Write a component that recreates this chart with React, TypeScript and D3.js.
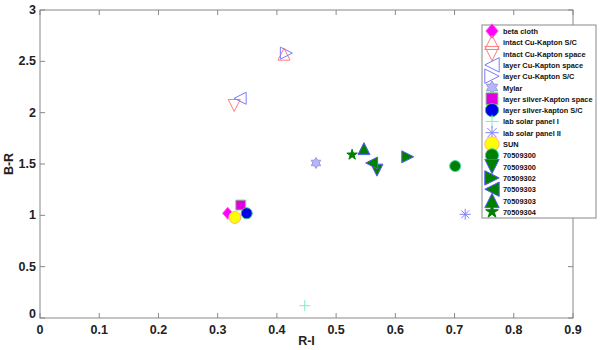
import React from "react";
import * as d3 from "d3";

// ---- data ----
const seriesNames = [
  "beta cloth",
  "intact Cu-Kapton S/C",
  "intact Cu-Kapton space",
  "layer Cu-Kapton space",
  "layer Cu-Kapton S/C",
  "Mylar",
  "layer silver-Kapton space",
  "layer silver-kapton S/C",
  "lab solar panel I",
  "lab solar panel II",
  "SUN",
  "70509300",
  "70509300",
  "70509302",
  "70509303",
  "70509303",
  "70509304",
];
const rIValues = [0.317, 0.412, 0.328, 0.338, 0.416, 0.466, 0.339, 0.349, 0.447, 0.718, 0.329, 0.701, 0.569, 0.621, 0.56, 0.547, 0.527];
const bRValues = [1.02, 2.57, 2.07, 2.14, 2.58, 1.51, 1.1, 1.02, 0.12, 1.01, 0.98, 1.48, 1.44, 1.57, 1.51, 1.65, 1.59];
const xTicks = [0, 0.1, 0.2, 0.3, 0.4, 0.5, 0.6, 0.7, 0.8, 0.9];
const yTicks = [0, 0.5, 1, 1.5, 2, 2.5, 3];
const xLabel = "R-I";
const yLabel = "B-R";

// ---- styles ----
type Sty = { shape: string; fill: string; stroke: string; size: number };
const styles: Sty[] = [
  { shape: "diamond", fill: "#ff00ff", stroke: "#ff55dd", size: 12 },
  { shape: "up", fill: "none", stroke: "#ff7a7a", size: 12 },
  { shape: "down", fill: "none", stroke: "#ff7a7a", size: 12 },
  { shape: "left", fill: "none", stroke: "#7a7aff", size: 12 },
  { shape: "right", fill: "none", stroke: "#7a7aff", size: 12 },
  { shape: "hexagram", fill: "#b4b4ff", stroke: "#9a9ad8", size: 11 },
  { shape: "square", fill: "#e000e0", stroke: "#7fdf7f", size: 10 },
  { shape: "circle", fill: "#0000ee", stroke: "#3fbf5f", size: 11 },
  { shape: "plus", fill: "none", stroke: "#80ecc8", size: 11 },
  { shape: "asterisk", fill: "none", stroke: "#8080ff", size: 11 },
  { shape: "circle", fill: "#ffff00", stroke: "#ffb08a", size: 12 },
  { shape: "circle", fill: "#008000", stroke: "#40d8b0", size: 11 },
  { shape: "down", fill: "#008000", stroke: "#5a5aff", size: 12 },
  { shape: "right", fill: "#008000", stroke: "#5a5aff", size: 12 },
  { shape: "left", fill: "#008000", stroke: "#5a5aff", size: 12 },
  { shape: "up", fill: "#008000", stroke: "#5a5aff", size: 12 },
  { shape: "pentagram", fill: "#008000", stroke: "#008000", size: 11 },
];

function markerPath(shape: string, s: number): string {
  const h = s / 2;
  switch (shape) {
    case "diamond":
      return `M0,${-h}L${h * 0.85},0L0,${h}L${-h * 0.85},0Z`;
    case "up":
      return `M0,${-h}L${h},${h}L${-h},${h}Z`;
    case "down":
      return `M0,${h}L${h},${-h}L${-h},${-h}Z`;
    case "left":
      return `M${-h},0L${h},${-h}L${h},${h}Z`;
    case "right":
      return `M${h},0L${-h},${-h}L${-h},${h}Z`;
    case "square":
      return `M${-h},${-h}H${h}V${h}H${-h}Z`;
    case "circle":
      return d3.arc()({ innerRadius: 0, outerRadius: h, startAngle: 0, endAngle: 2 * Math.PI }) as string;
    case "plus":
      return `M${-h},0H${h}M0,${-h}V${h}`;
    case "asterisk": {
      const d = h * 0.707;
      return `M${-h},0H${h}M0,${-h}V${h}M${-d},${-d}L${d},${d}M${-d},${d}L${d},${-d}`;
    }
    case "hexagram": {
      const pts: string[] = [];
      for (let i = 0; i < 12; i++) {
        const r = i % 2 === 0 ? h : h * 0.577;
        const a = (Math.PI / 6) * i - Math.PI / 2;
        pts.push(`${r * Math.cos(a)},${r * Math.sin(a)}`);
      }
      return "M" + pts.join("L") + "Z";
    }
    case "pentagram": {
      const pts: string[] = [];
      for (let i = 0; i < 10; i++) {
        const r = i % 2 === 0 ? h : h * 0.382;
        const a = (Math.PI / 5) * i - Math.PI / 2;
        pts.push(`${r * Math.cos(a)},${r * Math.sin(a)}`);
      }
      return "M" + pts.join("L") + "Z";
    }
  }
  return "";
}

const W = 600;
const H = 350;
const M = { left: 40, right: 573, top: 10, bottom: 318 };
const axisColor = "#888888";
const font = "'Liberation Sans', Arial, sans-serif";

export default function App() {
  const x = d3.scaleLinear().domain([0, 0.9]).range([M.left, M.right]);
  const y = d3.scaleLinear().domain([0, 3]).range([M.bottom, M.top]);
  const legX = 482;
  const legY = 25;
  const legW = 114;
  const rowH = 11.3;
  const legH = 193;
  return (
    <svg width={W} height={H} style={{ position: "absolute", left: 0, top: 0, background: "#fff" }}>
      <rect x={0} y={0} width={W} height={H} fill="#fff" />
      {/* axes box */}
      <rect x={M.left} y={M.top} width={M.right - M.left} height={M.bottom - M.top} fill="none" stroke={axisColor} strokeWidth={1} />
      {xTicks.map((t, i) => (
        <g key={"xt" + i}>
          <line x1={x(t)} x2={x(t)} y1={M.bottom} y2={M.bottom - 5} stroke={axisColor} />
          <line x1={x(t)} x2={x(t)} y1={M.top} y2={M.top + 5} stroke={axisColor} />
          <text x={x(t)} y={M.bottom + 16} textAnchor="middle" fontFamily={font} fontWeight="bold" fontSize={12.5} fill="#222">
            {String(t)}
          </text>
        </g>
      ))}
      {yTicks.map((t, i) => (
        <g key={"yt" + i}>
          <line x1={M.left} x2={M.left + 5} y1={y(t)} y2={y(t)} stroke={axisColor} />
          <line x1={M.right} x2={M.right - 5} y1={y(t)} y2={y(t)} stroke={axisColor} />
          <text x={M.left - 4} y={y(t) + 4 - (t === 0 ? 4 : 0)} textAnchor="end" fontFamily={font} fontWeight="bold" fontSize={12.5} fill="#222">
            {String(t)}
          </text>
        </g>
      ))}
      <text x={(M.left + M.right) / 2} y={345} textAnchor="middle" fontFamily={font} fontWeight="bold" fontSize={12.5} fill="#222">
        {xLabel}
      </text>
      <text transform={`translate(13,${(M.top + M.bottom) / 2}) rotate(-90)`} textAnchor="middle" fontFamily={font} fontWeight="bold" fontSize={12.5} fill="#222">
        {yLabel}
      </text>
      {/* points */}
      {seriesNames.map((n, i) => (
        <path
          key={"p" + i}
          d={markerPath(styles[i].shape, styles[i].size)}
          transform={`translate(${x(rIValues[i])},${y(bRValues[i])})`}
          fill={styles[i].fill}
          stroke={styles[i].stroke}
          strokeWidth={1}
        />
      ))}
      {/* legend */}
      <rect x={legX} y={legY} width={legW} height={legH} fill="#fff" stroke={axisColor} />
      {seriesNames.map((n, i) => (
        <g key={"l" + i} transform={`translate(${legX},${legY + 6 + i * rowH})`}>
          <path
            d={markerPath(styles[i].shape, styles[i].size * 1.2)}
            transform="translate(10,0)"
            fill={styles[i].fill}
            stroke={styles[i].stroke}
          />
          <text x={21} y={3} fontFamily={font} fontWeight="bold" fontSize={7.4} fill="#111">
            {n}
          </text>
        </g>
      ))}
    </svg>
  );
}
